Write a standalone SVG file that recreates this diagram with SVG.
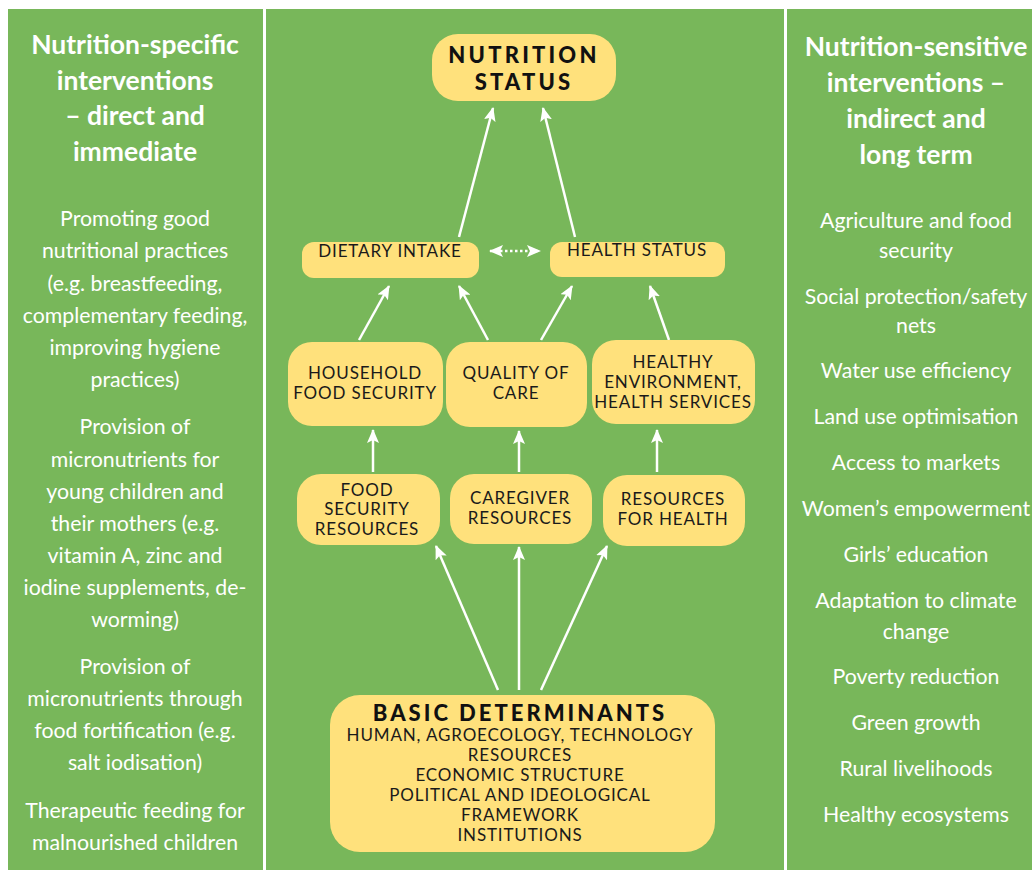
<svg xmlns="http://www.w3.org/2000/svg" width="1032" height="870" viewBox="0 0 1032 870">
<defs>
<style>
.panel{fill:#78b75a}
.node{fill:#ffe17c}
.hd{font-family:Lato,"Open Sans",sans-serif;font-weight:bold;font-size:26.5px;fill:#fff;text-anchor:middle}
.bd{font-family:Lato,"Open Sans",sans-serif;font-size:21.3px;fill:#fff;text-anchor:middle}
.nt{font-family:Lato,"Open Sans",sans-serif;font-size:17px;fill:#1a1a1a;text-anchor:middle;letter-spacing:0.85px}
.nb{font-family:Lato,"Open Sans",sans-serif;font-weight:900;fill:#111;text-anchor:middle}
.arr{stroke:#fff;stroke-width:2.5;fill:none;marker-end:url(#ah)}
</style>
<marker id="ah" viewBox="0 0 14 12" refX="13" refY="6" markerWidth="14" markerHeight="12" markerUnits="userSpaceOnUse" orient="auto">
<path d="M0,0 L14,6 L0,12 L3,6 Z" fill="#fff"/>
</marker>
<marker id="ahs" viewBox="0 0 14 12" refX="13" refY="6" markerWidth="14" markerHeight="12" markerUnits="userSpaceOnUse" orient="auto-start-reverse">
<path d="M0,0 L14,6 L0,12 L3,6 Z" fill="#fff"/>
</marker>
</defs>
<rect x="0" y="0" width="1032" height="870" fill="#fff"/>
<rect class="panel" x="8" y="9" width="255" height="861"/>
<rect class="panel" x="266" y="9" width="518" height="861"/>
<rect class="panel" x="787" y="9" width="245" height="861"/>

<g id="left-panel">
<text class="hd" x="135" y="54">Nutrition-specific</text>
<text class="hd" x="135" y="90">interventions</text>
<text class="hd" x="135" y="125">– direct and</text>
<text class="hd" x="135" y="161">immediate</text>
<text class="bd" x="135" y="226">Promoting good</text>
<text class="bd" x="135" y="258">nutritional practices</text>
<text class="bd" x="135" y="291">(e.g. breastfeeding,</text>
<text class="bd" x="135" y="323">complementary feeding,</text>
<text class="bd" x="135" y="355">improving hygiene</text>
<text class="bd" x="135" y="387">practices)</text>
<text class="bd" x="135" y="434">Provision of</text>
<text class="bd" x="135" y="467">micronutrients for</text>
<text class="bd" x="135" y="499">young children and</text>
<text class="bd" x="135" y="531">their mothers (e.g.</text>
<text class="bd" x="135" y="563">vitamin A, zinc and</text>
<text class="bd" x="135" y="595">iodine supplements, de-</text>
<text class="bd" x="135" y="627">worming)</text>
<text class="bd" x="135" y="674">Provision of</text>
<text class="bd" x="135" y="706">micronutrients through</text>
<text class="bd" x="135" y="738">food fortification (e.g.</text>
<text class="bd" x="135" y="770">salt iodisation)</text>
<text class="bd" x="135" y="818">Therapeutic feeding for</text>
<text class="bd" x="135" y="850">malnourished children</text>
</g>

<g id="right-panel">
<text class="hd" x="916" y="56">Nutrition-sensitive</text>
<text class="hd" x="916" y="92">interventions –</text>
<text class="hd" x="916" y="128">indirect and</text>
<text class="hd" x="916" y="164">long term</text>
<text class="bd" x="916" y="228">Agriculture and food</text>
<text class="bd" x="916" y="258">security</text>
<text class="bd" x="916" y="304">Social protection/safety</text>
<text class="bd" x="916" y="333">nets</text>
<text class="bd" x="916" y="378">Water use efficiency</text>
<text class="bd" x="916" y="424">Land use optimisation</text>
<text class="bd" x="916" y="470">Access to markets</text>
<text class="bd" x="916" y="516">Women’s empowerment</text>
<text class="bd" x="916" y="562">Girls’ education</text>
<text class="bd" x="916" y="608">Adaptation to climate</text>
<text class="bd" x="916" y="639">change</text>
<text class="bd" x="916" y="684">Poverty reduction</text>
<text class="bd" x="916" y="730">Green growth</text>
<text class="bd" x="916" y="776">Rural livelihoods</text>
<text class="bd" x="916" y="822">Healthy ecosystems</text>
</g>

<g id="connectors">
<line class="arr" x1="459" y1="237" x2="493" y2="108"/>
<line class="arr" x1="575" y1="237" x2="543" y2="108"/>
<line x1="490" y1="251" x2="540" y2="251" stroke="#fff" stroke-width="2.5" stroke-dasharray="2.5,2.5" marker-start="url(#ahs)" marker-end="url(#ahs)"/>
<line class="arr" x1="359" y1="340" x2="389" y2="286"/>
<line class="arr" x1="488" y1="340" x2="459" y2="286"/>
<line class="arr" x1="541" y1="340" x2="572" y2="286"/>
<line class="arr" x1="669" y1="340" x2="650" y2="286"/>
<line class="arr" x1="373" y1="472" x2="373" y2="430"/>
<line class="arr" x1="519" y1="472" x2="519" y2="431"/>
<line class="arr" x1="657" y1="472" x2="657" y2="430"/>
<line class="arr" x1="498" y1="690" x2="436" y2="546"/>
<line class="arr" x1="519" y1="690" x2="519" y2="547"/>
<line class="arr" x1="541" y1="690" x2="607" y2="546"/>
</g>

<g id="nutrition-status">
<rect class="node" x="432" y="34" width="184" height="67" rx="26"/>
<text class="nb" x="524" y="63" font-size="22" letter-spacing="3.2">NUTRITION</text>
<text class="nb" x="524" y="90" font-size="22" letter-spacing="3.2">STATUS</text>
</g>
<g id="dietary-intake">
<rect class="node" x="302" y="242" width="177" height="36" rx="12"/>
<text class="nt" x="390" y="257">DIETARY INTAKE</text>
</g>
<g id="health-status">
<rect class="node" x="550" y="242" width="175" height="35" rx="12"/>
<text class="nt" x="637" y="256">HEALTH STATUS</text>
</g>
<g id="household-food-security">
<rect class="node" x="288" y="342" width="155" height="84" rx="24"/>
<text class="nt" x="365" y="379">HOUSEHOLD</text>
<text class="nt" x="365" y="399">FOOD SECURITY</text>
</g>
<g id="quality-of-care">
<rect class="node" x="446" y="342" width="141" height="85" rx="24"/>
<text class="nt" x="516" y="379">QUALITY OF</text>
<text class="nt" x="516" y="399">CARE</text>
</g>
<g id="healthy-environment">
<rect class="node" x="592" y="340" width="163" height="84" rx="24"/>
<text class="nt" x="673" y="368">HEALTHY</text>
<text class="nt" x="673" y="388">ENVIRONMENT,</text>
<text class="nt" x="673" y="408">HEALTH SERVICES</text>
</g>
<g id="food-security-resources">
<rect class="node" x="297" y="474" width="143" height="71" rx="24"/>
<text class="nt" x="367" y="496">FOOD</text>
<text class="nt" x="367" y="515">SECURITY</text>
<text class="nt" x="367" y="535">RESOURCES</text>
</g>
<g id="caregiver-resources">
<rect class="node" x="450" y="474" width="142" height="70" rx="24"/>
<text class="nt" x="520" y="504">CAREGIVER</text>
<text class="nt" x="520" y="524">RESOURCES</text>
</g>
<g id="resources-for-health">
<rect class="node" x="603" y="475" width="142" height="71" rx="24"/>
<text class="nt" x="673" y="505">RESOURCES</text>
<text class="nt" x="673" y="525">FOR HEALTH</text>
</g>
<g id="basic-determinants">
<rect class="node" x="330" y="695" width="385" height="157" rx="30"/>
<text class="nb" x="520" y="721" font-size="22" letter-spacing="3">BASIC DETERMINANTS</text>
<text class="nt" x="520" y="741">HUMAN, AGROECOLOGY, TECHNOLOGY</text>
<text class="nt" x="520" y="761">RESOURCES</text>
<text class="nt" x="520" y="781">ECONOMIC STRUCTURE</text>
<text class="nt" x="520" y="801">POLITICAL AND IDEOLOGICAL</text>
<text class="nt" x="520" y="821">FRAMEWORK</text>
<text class="nt" x="520" y="841">INSTITUTIONS</text>
</g>
</svg>
